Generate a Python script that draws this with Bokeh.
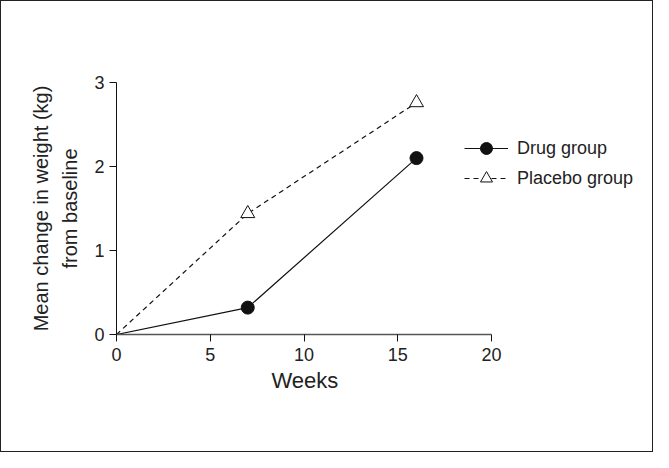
from bokeh.plotting import figure
from bokeh.models import Range1d, FixedTicker, Legend, Title
from bokeh.embed import file_html
from bokeh.resources import INLINE

weeks = [0, 7, 16]
drug = [0, 0.32, 2.10]
placebo = [0, 1.44, 2.76]
x_ticks = [0, 5, 10, 15, 20]
y_ticks = [0, 1, 2, 3]

FONT = "Liberation Sans"
TXT = "#222222"

W, H = 653, 452
LEFT, TOP, BOTTOM, RIGHT = 115, 81, 452 - 333, 8
frame_w = W - LEFT - RIGHT
x_end = 20 * frame_w / 375.0   # axis itself stops at 20 (bounds)

p = figure(width=W, height=H, output_backend="svg", toolbar_location=None,
           x_range=Range1d(0, x_end), y_range=Range1d(0, 3),
           min_border_left=LEFT, min_border_right=RIGHT, min_border_top=TOP, min_border_bottom=BOTTOM)
p.styles = {"border": "1px solid #222222"}
p.grid.visible = False
p.outline_line_color = None
p.background_fill_color = "white"
p.border_fill_color = "white"

for ax in (p.xaxis[0], p.yaxis[0]):
    ax.axis_line_color = "#111111"
    ax.axis_line_width = 1
    ax.major_tick_line_color = "#111111"
    ax.major_tick_out = 7
    ax.major_tick_in = 0
    ax.minor_tick_line_color = None
    ax.major_label_text_font = FONT
    ax.major_label_text_font_size = "18px"
    ax.major_label_text_color = TXT
    ax.axis_label_text_font = FONT
    ax.axis_label_text_font_style = "normal"
    ax.axis_label_text_color = TXT

p.xaxis[0].axis_line_color = "#555555"
p.xaxis[0].axis_line_width = 1.5
p.xaxis.bounds = (0, 20)
p.yaxis.bounds = (0, 3)
p.xaxis.ticker = FixedTicker(ticks=x_ticks)
p.yaxis.ticker = FixedTicker(ticks=y_ticks)
p.xaxis.major_label_standoff = 6
p.yaxis.axis_label = "Mean change in weight (kg)\nfrom baseline"
p.yaxis.axis_label_text_font_size = "20px"
p.yaxis.axis_label_text_line_height = 1.35
p.yaxis.major_label_standoff = 5
p.yaxis.axis_label_standoff = 10

# x-axis title placed under the middle of the bounded axis (0..20), not the wider frame
xtitle = Title(text="Weeks", align="left", offset=155, standoff=4,
               text_font=FONT, text_font_size="22px", text_font_style="normal", text_color=TXT)
p.add_layout(xtitle, "below")

dl = p.line(weeks, drug, line_color="#111111", line_width=1.2)
ds = p.scatter(weeks[1:], drug[1:], marker="circle", size=13, fill_color="#111111", line_color="#111111")
pl = p.line(weeks, placebo, line_color="#111111", line_width=1.2, line_dash="5 4")
ps = p.scatter(weeks[1:], placebo[1:], marker="triangle", size=14, fill_color="white", line_color="#111111", line_width=1)

legend = Legend(items=[("Drug group", [dl, ds]), ("Placebo group", [pl, ps])],
                location=(348, 141), padding=0, margin=0, spacing=0,
                glyph_width=44, glyph_height=30, label_height=30, label_standoff=9,
                border_line_color=None, background_fill_alpha=0,
                label_text_font=FONT, label_text_font_size="18px", label_text_color=TXT)
p.add_layout(legend, "center")

open("out.html", "w").write(file_html(p, INLINE))
